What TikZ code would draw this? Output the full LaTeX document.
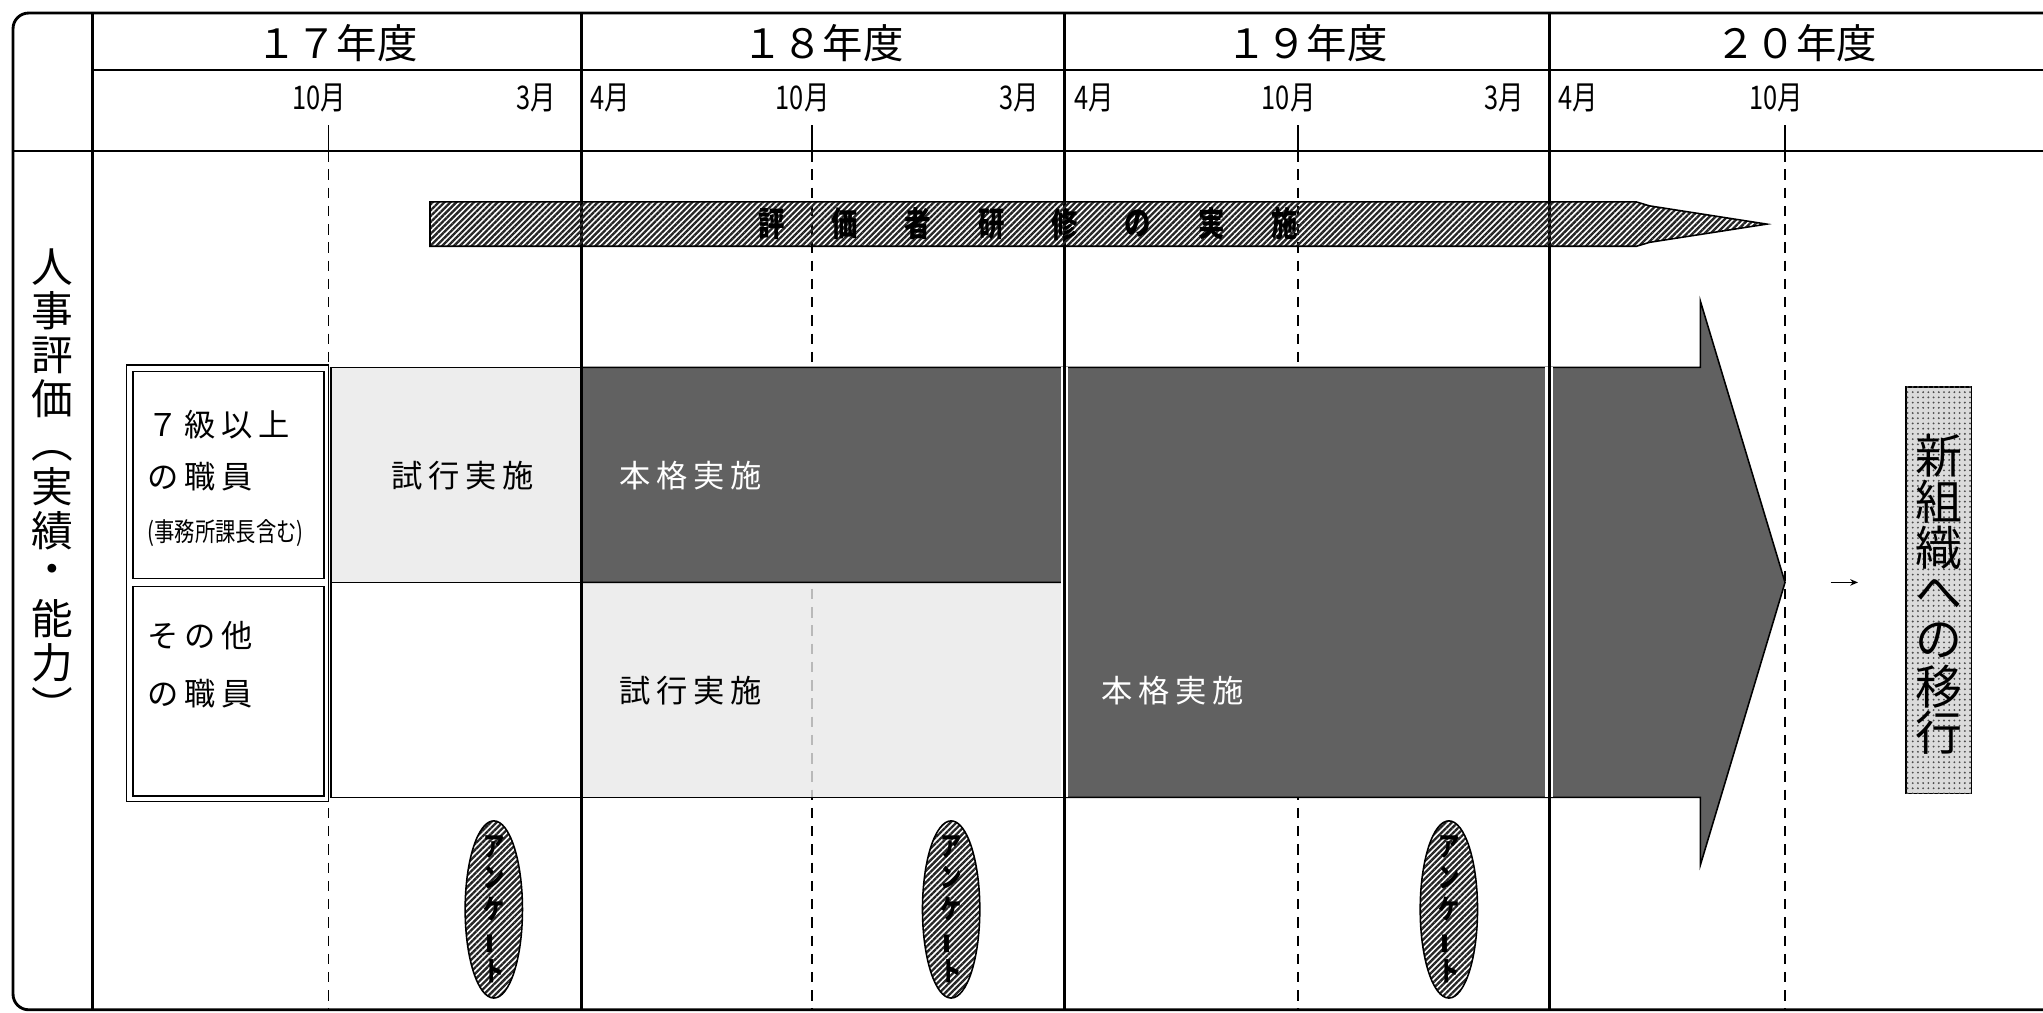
\documentclass[tikz,border=0pt]{standalone}
\usepackage{fontspec}
\usepackage{graphicx}
\setmainfont{Noto Sans CJK JP}
\newfontfamily\narrowfont[FakeStretch=0.78]{Noto Sans CJK JP}
\newfontfamily\widefont[LetterSpace=18]{Noto Sans CJK JP}
\usetikzlibrary{patterns.meta,shapes.geometric,arrows.meta,positioning}

\begin{document}
\begin{tikzpicture}[x=0.5pt, y=-0.5pt,
    mainline/.style={line width=1.1pt},
    gridline/.style={line width=0.8pt},
    tickline/.style={line width=0.6pt},
    dashline/.style={line width=0.6pt, dash pattern=on 4pt off 3pt},
    boxline/.style={line width=0.6pt},
    yearlabel/.style={inner sep=0, font=\fontsize{15.5}{18}\selectfont},
    monthlabel/.style={inner sep=0, font=\narrowfont\fontsize{12.5}{14}\selectfont},
    rowlabel/.style={inner sep=0, anchor=west, font=\widefont\fontsize{12}{14}\selectfont},
    smalllabel/.style={inner sep=0, anchor=west, font=\narrowfont\fontsize{10}{12}\selectfont},
    barlabel/.style={inner sep=0, font=\widefont\fontsize{12}{14}\selectfont},
    vchar/.style={inner sep=0, font=\fontsize{16}{18}\selectfont},
    newchar/.style={inner sep=0, font=\fontsize{18}{20}\selectfont},
    bandchar/.style={inner sep=0, font=\narrowfont\bfseries\fontsize{13}{15}\selectfont},
    hatched/.style={pattern={Lines[angle=45, distance=1.6pt, line width=0.9pt]}, pattern color=black!85},
    lightfill/.style={fill=black!9, fill opacity=0.8},
    darkfill/.style={fill=black!62},
    enquete/.style={ellipse, draw, line width=0.6pt, hatched, minimum width=22pt, minimum height=68pt, inner sep=0},
    enqtext/.style={inner sep=0, align=center, font=\narrowfont\bfseries\fontsize{10.5}{12}\selectfont}
]
\useasboundingbox (0,0) rectangle (1568,777);

% october ticks
\foreach \tk in {252, 623, 996, 1370} {
    \draw[tickline] (\tk,96) -- (\tk,116);
    \draw[dashline] (\tk,116) -- (\tk,775);
}

% cells and the big arrow
\draw[boxline, lightfill] (254,282) rectangle (446,447);
\draw[boxline] (254,447) rectangle (446,612);
\draw[boxline, lightfill] (446,447) rectangle (817,612);
\draw[boxline, darkfill] (446,282) -- (1305,282) -- (1305,231) -- (1370,447) -- (1305,664)
    -- (1305,612) -- (817,612) -- (817,447) -- (446,447) -- cycle;

% year lines
\foreach \x in {817, 1189}
    \draw[white, line width=3pt] (\x,282) -- (\x,612);
\foreach \x in {446, 817, 1189}
    \draw[mainline] (\x,10) -- (\x,775);

% frame
\draw[mainline] (1568,10) [rounded corners=6pt] -- (10,10) -- (10,775) -- (1568,775);
\draw[mainline] (71,10) -- (71,775);
\draw[gridline] (71,54) -- (1568,54);
\draw[gridline] (10,116) -- (1568,116);

% staff box
\draw[boxline] (97,280) rectangle (252,615);
\draw[boxline] (102,285) rectangle (248.5,444);
\draw[boxline] (102,450) rectangle (248.5,611);

% training band
\draw[boxline, hatched] (330,155) -- (1256,155) -- (1266,158) -- (1356,172) -- (1266,186)
    -- (1256,189) -- (330,189) -- cycle;
\foreach \ch [count=\n from 0] in {評,価,者,研,修,の,実,施}
    \node[bandchar] (train\n) at (592+56.3*\n, 172) {\ch};

% questionnaires
\foreach \ex [count=\n] in {379, 730, 1112} {
    \node[enquete] (enq\n) at (\ex, 698) {};
    \node[enqtext] (enqtext\n) at (enq\n.center) {ア\\ン\\ケ\\\rotatebox[origin=c]{90}{ー}\\ト};
}

% new organisation
\draw[boxline, fill=black!14] (1463,297) rectangle (1513,609);
\fill[pattern={Dots[distance=2pt, radius=0.4pt]}, pattern color=black!70] (1463,297) rectangle (1513,609);
\foreach \ch [count=\n from 0] in {新,組,織,へ,の,移,行}
    \node[newchar] (neworg\n) at (1488, 350+35.4*\n) {\ch};
\coordinate (arrstart) at (1405,447);
\coordinate (arrend) at (1426,447);
\draw[-{Stealth[length=3pt, width=2.5pt]}, line width=0.5pt] (arrstart) -- (arrend);

% header
\foreach \ys/\ye/\tk/\yr [count=\n] in {71/446/252/１７, 446/817/623/１８, 817/1189/996/１９, 1189/1568/1370/２０} {
    \node[yearlabel] (year\n) at ({(\ys+\ye)/2}, 33) {\yr 年度};
    \node[monthlabel] (oct\n) at (\tk-7, 75) {10月};
}
\foreach \x [count=\n] in {446, 817, 1189} {
    \node[monthlabel, anchor=east] (mar\n) at (\x-19, 75) {3月};
    \node[monthlabel, anchor=west] (apr\n) at (\x+7, 75) {4月};
}

% row labels
\foreach \ch [count=\n from 0] in {人,事,評,価,{\rotatebox[origin=c]{-90}{（}},実,績,・,能,力,{\rotatebox[origin=c]{-90}{）}}}
    \node[vchar] (hr\n) at (40.5, 205+33.7*\n) {\ch};
\node[rowlabel] (upper1) at (113,326) {７級以上};
\node[rowlabel] (upper2) at (113,366) {の職員};
\node[smalllabel] (upper3) at (113,409) {(事務所課長含む)};
\node[rowlabel] (other1) at (113,488) {その他};
\node[rowlabel] (other2) at (113,532) {の職員};

% bar texts
\node[barlabel] (trial17) at (355,365) {試行実施};
\node[barlabel, anchor=west, text=white] (full18) at (475,365) {本格実施};
\node[barlabel, anchor=west] (trial18) at (475,530) {試行実施};
\node[barlabel, anchor=west, text=white] (full19) at (845,530) {本格実施};
\end{tikzpicture}
\end{document}
